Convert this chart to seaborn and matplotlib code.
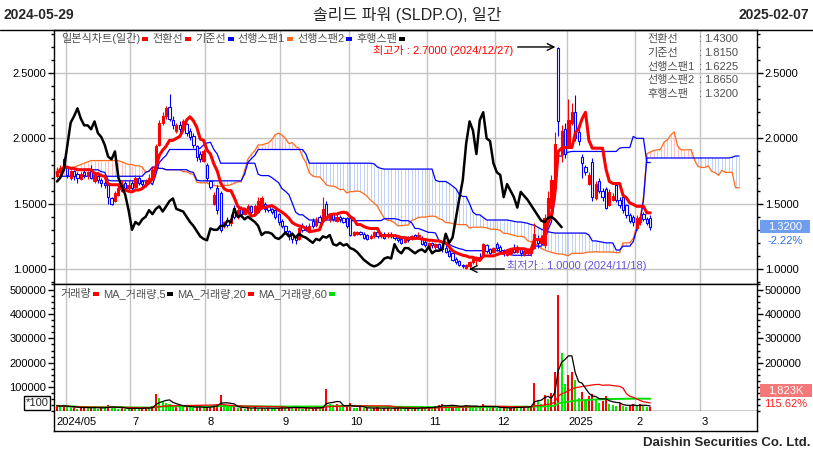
import numpy as np
import pandas as pd
import seaborn as sns
import matplotlib
matplotlib.use('Agg')
import matplotlib.pyplot as plt
from matplotlib.patches import Rectangle
from matplotlib.lines import Line2D
from matplotlib.ticker import MultipleLocator, FixedLocator, FormatStrFormatter

# daily bars 2024-05-29 .. 2025-02-07 (bar index 0..174)
opens = [1.71, 1.74, 1.84, 1.78, 1.70, 1.75, 1.73, 1.69, 1.74, 1.71,
         1.76, 1.67, 1.71, 1.68, 1.66, 1.64, 1.54, 1.52, 1.57, 1.60,
         1.66, 1.62, 1.66, 1.63, 1.70, 1.67, 1.64, 1.67, 1.70, 1.80,
         1.95, 2.12, 2.17, 2.24, 2.14, 2.06, 2.10, 2.08, 2.11, 2.06,
         2.02, 1.94, 1.88, 1.83, 1.80, 1.67, 1.50, 1.62, 1.58, 1.33,
         1.37, 1.35, 1.47, 1.40, 1.46, 1.42, 1.45, 1.48, 1.42, 1.44,
         1.47, 1.50, 1.48, 1.46, 1.45, 1.42, 1.37, 1.33, 1.29, 1.27,
         1.25, 1.23, 1.33, 1.32, 1.30, 1.37, 1.34, 1.40, 1.37, 1.50,
         1.38, 1.42, 1.37, 1.40, 1.39, 1.39, 1.39, 1.26, 1.27, 1.28,
         1.27, 1.26, 1.24, 1.25, 1.28, 1.25, 1.27, 1.25, 1.27, 1.26,
         1.24, 1.23, 1.21, 1.24, 1.23, 1.26, 1.25, 1.24, 1.21, 1.17,
         1.20, 1.17, 1.19, 1.17, 1.16, 1.14, 1.12, 1.08, 1.06, 1.03,
         1.01, 1.02, 1.05, 1.07, 1.09, 1.10, 1.18, 1.15, 1.13, 1.19,
         1.17, 1.14, 1.11, 1.12, 1.16, 1.13, 1.15, 1.11, 1.12, 1.12,
         1.16, 1.24, 1.20, 1.18, 1.40, 1.47, 1.62, 2.69, 1.88, 2.07,
         1.95, 2.12, 2.20, 2.05, 1.86, 1.78, 1.65, 1.82, 1.54, 1.67,
         1.60, 1.61, 1.49, 1.53, 1.64, 1.53, 1.55, 1.49, 1.41, 1.40,
         1.31, 1.36, 1.42, 1.38, 1.39]
highs = [1.78, 1.80, 1.86, 1.79, 1.76, 1.76, 1.74, 1.74, 1.77, 1.75,
         1.80, 1.73, 1.72, 1.70, 1.69, 1.65, 1.55, 1.60, 1.64, 1.68,
         1.67, 1.68, 1.67, 1.72, 1.71, 1.68, 1.69, 1.73, 1.78, 1.96,
         2.14, 2.20, 2.25, 2.34, 2.17, 2.12, 2.13, 2.15, 2.12, 2.08,
         2.04, 1.95, 1.90, 1.92, 1.81, 1.68, 1.59, 1.64, 1.60, 1.37,
         1.40, 1.42, 1.49, 1.47, 1.48, 1.47, 1.50, 1.49, 1.50, 1.55,
         1.56, 1.51, 1.49, 1.47, 1.46, 1.43, 1.38, 1.34, 1.30, 1.28,
         1.26, 1.32, 1.35, 1.34, 1.35, 1.39, 1.40, 1.41, 1.55, 1.52,
         1.43, 1.43, 1.42, 1.41, 1.40, 1.40, 1.40, 1.29, 1.29, 1.29,
         1.28, 1.27, 1.27, 1.29, 1.29, 1.28, 1.28, 1.28, 1.28, 1.27,
         1.25, 1.24, 1.24, 1.25, 1.26, 1.27, 1.28, 1.25, 1.22, 1.21,
         1.21, 1.20, 1.20, 1.18, 1.18, 1.15, 1.13, 1.09, 1.07, 1.04,
         1.04, 1.06, 1.10, 1.10, 1.12, 1.20, 1.19, 1.16, 1.17, 1.21,
         1.18, 1.15, 1.15, 1.16, 1.19, 1.18, 1.16, 1.15, 1.16, 1.17,
         1.35, 1.26, 1.26, 1.42, 1.60, 1.72, 2.05, 2.70, 2.10, 2.12,
         2.30, 2.27, 2.33, 2.07, 1.88, 1.80, 1.74, 1.85, 1.67, 1.70,
         1.62, 1.63, 1.61, 1.58, 1.66, 1.55, 1.56, 1.50, 1.43, 1.41,
         1.41, 1.42, 1.44, 1.40, 1.41]
lows = [1.70, 1.72, 1.76, 1.70, 1.68, 1.68, 1.66, 1.68, 1.70, 1.69,
        1.69, 1.66, 1.66, 1.63, 1.62, 1.50, 1.49, 1.51, 1.56, 1.59,
        1.61, 1.60, 1.60, 1.62, 1.64, 1.63, 1.63, 1.66, 1.69, 1.79,
        1.94, 2.10, 2.15, 2.13, 2.07, 2.04, 2.05, 2.07, 2.02, 1.99,
        1.93, 1.83, 1.82, 1.82, 1.67, 1.61, 1.49, 1.42, 1.28, 1.31,
        1.32, 1.33, 1.38, 1.38, 1.40, 1.41, 1.43, 1.42, 1.41, 1.43,
        1.46, 1.44, 1.44, 1.42, 1.38, 1.34, 1.31, 1.27, 1.22, 1.20,
        1.19, 1.22, 1.28, 1.29, 1.29, 1.31, 1.32, 1.34, 1.36, 1.38,
        1.36, 1.37, 1.36, 1.36, 1.35, 1.31, 1.25, 1.25, 1.26, 1.26,
        1.23, 1.22, 1.23, 1.24, 1.24, 1.24, 1.23, 1.24, 1.24, 1.22,
        1.21, 1.19, 1.20, 1.21, 1.22, 1.23, 1.24, 1.18, 1.17, 1.16,
        1.16, 1.15, 1.15, 1.13, 1.12, 1.09, 1.06, 1.04, 1.02, 1.01,
        1.00, 1.01, 1.04, 1.03, 1.07, 1.09, 1.12, 1.11, 1.12, 1.14,
        1.13, 1.10, 1.10, 1.11, 1.12, 1.12, 1.10, 1.10, 1.11, 1.10,
        1.15, 1.16, 1.18, 1.16, 1.38, 1.45, 1.60, 2.02, 1.82, 1.85,
        1.93, 2.10, 1.98, 1.95, 1.70, 1.72, 1.64, 1.52, 1.53, 1.58,
        1.52, 1.46, 1.48, 1.52, 1.51, 1.47, 1.43, 1.39, 1.35, 1.33,
        1.30, 1.34, 1.37, 1.34, 1.30]
closes = [1.74, 1.77, 1.78, 1.72, 1.75, 1.71, 1.70, 1.73, 1.72, 1.74,
          1.70, 1.72, 1.68, 1.66, 1.64, 1.55, 1.50, 1.58, 1.62, 1.65,
          1.62, 1.64, 1.62, 1.70, 1.66, 1.65, 1.67, 1.70, 1.76, 1.94,
          2.12, 2.17, 2.23, 2.15, 2.10, 2.10, 2.07, 2.13, 2.04, 2.01,
          1.95, 1.86, 1.84, 1.90, 1.70, 1.63, 1.57, 1.45, 1.30, 1.36,
          1.34, 1.38, 1.40, 1.45, 1.42, 1.46, 1.48, 1.44, 1.48, 1.52,
          1.54, 1.46, 1.45, 1.44, 1.40, 1.36, 1.33, 1.29, 1.25, 1.23,
          1.22, 1.31, 1.30, 1.30, 1.33, 1.33, 1.37, 1.36, 1.46, 1.40,
          1.41, 1.38, 1.40, 1.38, 1.36, 1.33, 1.26, 1.28, 1.28, 1.27,
          1.24, 1.23, 1.25, 1.28, 1.25, 1.27, 1.24, 1.27, 1.25, 1.24,
          1.22, 1.20, 1.23, 1.22, 1.25, 1.24, 1.26, 1.19, 1.18, 1.20,
          1.18, 1.19, 1.16, 1.15, 1.13, 1.10, 1.07, 1.05, 1.03, 1.02,
          1.03, 1.05, 1.08, 1.09, 1.08, 1.19, 1.14, 1.12, 1.16, 1.16,
          1.14, 1.12, 1.14, 1.15, 1.13, 1.17, 1.12, 1.14, 1.14, 1.15,
          1.27, 1.20, 1.24, 1.39, 1.54, 1.68, 1.96, 2.13, 2.06, 1.88,
          2.14, 2.20, 2.00, 1.98, 1.81, 1.74, 1.72, 1.55, 1.65, 1.60,
          1.55, 1.47, 1.59, 1.56, 1.53, 1.49, 1.45, 1.41, 1.37, 1.36,
          1.39, 1.40, 1.38, 1.35, 1.32]
volumes = [22000, 18000, 25000, 15000, 12000, 20000, 9000, 14000, 17000, 11000,
           16000, 13000, 10000, 15000, 12000, 24000, 20000, 11000, 9000, 13000,
           10000, 8000, 14000, 12000, 9000, 11000, 15000, 13000, 20000, 72000,
           52000, 40000, 35000, 30000, 22000, 25000, 18000, 15000, 20000, 17000,
           14000, 16000, 18000, 12000, 15000, 20000, 25000, 30000, 66000, 28000,
           20000, 15000, 18000, 12000, 14000, 10000, 13000, 11000, 15000, 9000,
           12000, 10000, 14000, 11000, 9000, 13000, 15000, 12000, 18000, 14000,
           16000, 12000, 10000, 14000, 11000, 13000, 15000, 12000, 22000, 92000,
           28000, 24000, 30000, 18000, 15000, 20000, 35000, 14000, 12000, 16000,
           11000, 13000, 10000, 12000, 15000, 9000, 11000, 14000, 10000, 12000,
           13000, 11000, 9000, 12000, 10000, 14000, 11000, 16000, 12000, 18000,
           14000, 20000, 25000, 28000, 22000, 18000, 24000, 20000, 16000, 22000,
           26000, 20000, 18000, 15000, 12000, 30000, 18000, 14000, 16000, 13000,
           12000, 15000, 11000, 14000, 18000, 16000, 13000, 20000, 15000, 22000,
           115000, 40000, 30000, 68000, 50000, 75000, 160000, 480000, 240000, 110000,
           150000, 160000, 130000, 55000, 80000, 45000, 60000, 70000, 45000, 35000,
           40000, 62000, 30000, 25000, 20000, 35000, 22000, 18000, 20000, 30000,
           22000, 28000, 20000, 15767, 18230]

# leading spans over the first 26 bars (they come from bars before the window)
span1_early = [1.76, 1.76, 1.77, 1.77, 1.78, 1.78, 1.79, 1.80, 1.81, 1.82,
               1.83, 1.83, 1.83, 1.83, 1.83, 1.83, 1.83, 1.83, 1.83, 1.82,
               1.81, 1.80, 1.80, 1.79, 1.79, 1.78]
span2_early = [1.71, 1.71, 1.71, 1.71, 1.71, 1.71, 1.71, 1.71, 1.71, 1.71,
               1.71, 1.71, 1.71, 1.71, 1.71, 1.71, 1.71, 1.71, 1.71, 1.71,
               1.71, 1.71, 1.71, 1.71, 1.71, 1.71]

# first trading bar of each month
month_starts = [3, 22, 44, 66, 86, 109, 129, 150, 170, 189]
month_labels = ['2024/05', '7', '8', '9', '10', '11', '12', '2025', '2', '3']

W, H = 813, 455


def fx(x):
    return x / W


def fy(y):
    return 1 - y / H


sns.set_theme(style='white')
plt.rcParams['font.family'] = ['Liberation Sans', 'Noto Sans CJK KR', 'DejaVu Sans']
plt.rcParams['axes.unicode_minus'] = False

df = pd.DataFrame({'open': opens, 'high': highs, 'low': lows, 'close': closes, 'volume': volumes})
n = len(df)
idx = np.arange(n)

conv = (df.high.rolling(9, min_periods=1).max() + df.low.rolling(9, min_periods=1).min()) / 2
base = (df.high.rolling(26, min_periods=1).max() + df.low.rolling(26, min_periods=1).min()) / 2
lead1 = (conv + base) / 2
lead2 = (df.high.rolling(52, min_periods=1).max() + df.low.rolling(52, min_periods=1).min()) / 2
span1 = np.concatenate([span1_early, lead1.values])
span2 = np.concatenate([span2_early, lead2.values])
sx = np.arange(len(span1))

fig = plt.figure(figsize=(8.13, 4.55), dpi=100)
fig.patch.set_facecolor('white')

ax_p = fig.add_axes([fx(54), fy(284), (757 - 54) / W, (284 - 30) / H])
ax_v = fig.add_axes([fx(54), fy(411), (757 - 54) / W, (411 - 284) / H])
ax_d = fig.add_axes([fx(54), fy(431), (757 - 54) / W, (431 - 411) / H])

xlim = (-0.88, 205.3)
grid_x = [m - 0.5 for m in month_starts]
for ax in (ax_p, ax_v, ax_d):
    ax.set_xlim(*xlim)
    ax.set_facecolor('white')
    for s in ax.spines.values():
        s.set_color('black')
        s.set_linewidth(1)
    ax.tick_params(axis='x', bottom=False, labelbottom=False)
for gx in grid_x:
    ax_p.axvline(gx, color='#c4c4c4', lw=1, zorder=0)
    ax_v.axvline(gx, color='#c4c4c4', lw=1, zorder=0)

# ---- price panel ----
ax_p.set_ylim(0.885, 2.83)
for gy in (1.0, 1.5, 2.0, 2.5):
    ax_p.axhline(gy, color='#c4c4c4', lw=1, zorder=0)

cloud_cols = ['#ffc0c0' if a >= b else '#bfd0f4' for a, b in zip(span1, span2)]
ax_p.vlines(sx, np.minimum(span1, span2), np.maximum(span1, span2), colors=cloud_cols, lw=0.7, zorder=1)

sns.lineplot(x=sx, y=span1, ax=ax_p, color='#ff6a1a', linewidth=0.9, zorder=2)
sns.lineplot(x=sx, y=span2, ax=ax_p, color='#0000ff', linewidth=0.9, zorder=2)
sns.lineplot(x=idx, y=base.values, ax=ax_p, color='#0000ff', linewidth=0.9, zorder=2)

cw = 0.66
for i in range(n):
    o, h, l, c = opens[i], highs[i], lows[i], closes[i]
    up = c >= o
    col = '#ff0000' if up else '#0000ff'
    ax_p.vlines(i, l, h, color=col, lw=0.8, zorder=3)
    ax_p.add_patch(Rectangle((i - cw / 2, min(o, c)), cw, max(abs(c - o), 0.004),
                             facecolor=col if up else 'white', edgecolor=col, lw=0.8, zorder=3.5))

sns.lineplot(x=idx, y=conv.values, ax=ax_p, color='#ff0000', linewidth=2.2, zorder=4)
sns.lineplot(x=idx[:-26], y=df.close.values[26:], ax=ax_p, color='black', linewidth=1.8, zorder=4)

ax_p.yaxis.set_major_locator(FixedLocator([1.0, 1.5, 2.0, 2.5]))
ax_p.yaxis.set_minor_locator(MultipleLocator(0.1))
ax_p.yaxis.set_major_formatter(FormatStrFormatter('%.4f'))
ax_p.set_xlabel('')
ax_p.set_ylabel('')

# high / low markers
hi_i = int(np.argmax(highs))
lo_i = int(np.argmin(lows))
ax_p.annotate('', xy=(hi_i, highs[hi_i]), xytext=(134.3, highs[hi_i]),
              arrowprops=dict(arrowstyle='->', color='black', lw=1), zorder=6)
ax_p.text(92.7, 2.673, '최고가 : %.4f (2024/12/27)' % highs[hi_i], color='#ff0000',
          fontsize=8, ha='left', va='center', zorder=6)
ax_p.annotate('', xy=(lo_i, lows[lo_i]), xytext=(132, lows[lo_i]),
              arrowprops=dict(arrowstyle='->', color='black', lw=1), zorder=6)
ax_p.text(132, 1.03, '최저가 : %.4f (2024/11/18)' % lows[lo_i], color='#6650dd',
          fontsize=8, ha='left', va='center', zorder=6)

# ---- volume panel ----
ax_v.set_ylim(0, 525000)
vol_cols = ['#ff0000' if i == 0 or volumes[i] >= volumes[i - 1] else '#00ee00' for i in range(n)]
ax_v.bar(idx, volumes, width=0.6, color=vol_cols, linewidth=0, zorder=2)
ma5 = df.volume.rolling(5, min_periods=1).mean()
ma20 = df.volume.rolling(20, min_periods=1).mean()
ma60 = df.volume.rolling(60, min_periods=1).mean()
sns.lineplot(x=idx, y=ma60.values, ax=ax_v, color='#00dd00', linewidth=1.4, zorder=3)
sns.lineplot(x=idx, y=ma20.values, ax=ax_v, color='#ff0000', linewidth=0.9, zorder=3)
sns.lineplot(x=idx, y=ma5.values, ax=ax_v, color='black', linewidth=0.9, zorder=3)
ax_v.yaxis.set_major_locator(FixedLocator([100000, 200000, 300000, 400000, 500000]))
ax_v.yaxis.set_minor_locator(MultipleLocator(25000))
ax_v.yaxis.set_major_formatter(FormatStrFormatter('%d'))
ax_v.set_xlabel('')
ax_v.set_ylabel('')

for ax in (ax_p, ax_v):
    ax.tick_params(axis='y', which='both', left=True, right=True, labelleft=True, labelright=True,
                   direction='out', colors='black', labelsize=8, pad=1.5)
    ax.tick_params(axis='y', which='major', length=4, width=1)
    ax.tick_params(axis='y', which='minor', length=2.5, width=1)

# the current-volume box sits where the right 100000 label would be
ax_v.yaxis.get_major_ticks()[0].label2.set_visible(False)

# ---- date strip ----
ax_d.set_ylim(0, 1)
ax_d.tick_params(axis='y', left=False, labelleft=False)
ax_d.spines['top'].set_visible(False)
for k, lab in enumerate(month_labels):
    lx = -0.3 if k == 0 else grid_x[k] + 0.5
    ax_d.text(lx, 0.45, lab, fontsize=8, ha='left', va='center', color='black')

# ---- header / footer ----
fig.add_artist(Line2D([0, 1], [fy(30), fy(30)], color='black', lw=1))
fig.text(fx(3), fy(15), '2024-05-29', fontsize=10, fontweight='bold', ha='left', va='center')
fig.text(fx(809), fy(15), '2025-02-07', fontsize=10, fontweight='bold', ha='right', va='center')
fig.text(fx(407), fy(15), '솔리드 파워 (SLDP.O), 일간', fontsize=11.5, ha='center', va='center')
fig.text(fx(810), fy(443), 'Daishin Securities Co. Ltd.', fontsize=9.5, fontweight='bold',
         ha='right', va='center')

renderer = fig.canvas.get_renderer()


def legend_row(items, x, y):
    for label, col in items:
        t = fig.text(fx(x), fy(y), label, fontsize=8, color='#505050', ha='left', va='center')
        x += t.get_window_extent(renderer).width + 2
        fig.add_artist(Rectangle((fx(x), fy(y + 2)), 6 / W, 4 / H, facecolor=col, edgecolor='none'))
        x += 6 + 4


legend_row([('일본식차트(일간)', '#ff0000'), ('전환선', '#ff0000'), ('기준선', '#0000ff'),
            ('선행스팬1', '#ff6a1a'), ('선행스팬2', '#0000ff'), ('후행스팬', 'black')], 61, 39)
legend_row([('거래량', '#ff0000'), ('MA_거래량,5', 'black'), ('MA_거래량,20', '#ff0000'),
            ('MA_거래량,60', '#00dd00')], 60, 294)

# latest values block
last_vals = [('전환선', conv.values[-1]), ('기준선', base.values[-1]), ('선행스팬1', span1[-1]),
             ('선행스팬2', span2[-1]), ('후행스팬', closes[-1])]
for k, (lab, val) in enumerate(last_vals):
    yy = 39 + k * 13.8
    fig.text(fx(647), fy(yy), lab, fontsize=8, color='#505050', ha='left', va='center')
    fig.text(fx(699), fy(yy), ':', fontsize=8, color='#505050', ha='left', va='center')
    fig.text(fx(704), fy(yy), '%.4f' % val, fontsize=8, color='#505050', ha='left', va='center')

# right-side current value boxes
chg = (closes[-1] / closes[-2] - 1) * 100
fig.add_artist(Rectangle((fx(760), fy(233)), 50 / W, 13 / H, facecolor='#6f9ef0', edgecolor='none'))
fig.text(fx(785), fy(226.5), '%.4f' % closes[-1], fontsize=8, color='white', ha='center', va='center')
fig.text(fx(785), fy(241), '%.2f%%' % chg, fontsize=8, color='#2f6ff0', ha='center', va='center')

vchg = volumes[-1] / volumes[-2] * 100
fig.add_artist(Rectangle((fx(760), fy(397)), 52 / W, 13 / H, facecolor='#f47878', edgecolor='none'))
fig.text(fx(786), fy(390.5), '{:,}K'.format(round(volumes[-1] / 10)), fontsize=8, color='white',
         ha='center', va='center')
fig.text(fx(786), fy(404), '%.2f%%' % vchg, fontsize=8, color='#ff2020', ha='center', va='center')

fig.text(fx(37), fy(403), '*100', fontsize=8, ha='center', va='center',
         bbox=dict(boxstyle='square,pad=0.15', facecolor='white', edgecolor='black', lw=1))

fig.savefig('out.png', dpi=100)
